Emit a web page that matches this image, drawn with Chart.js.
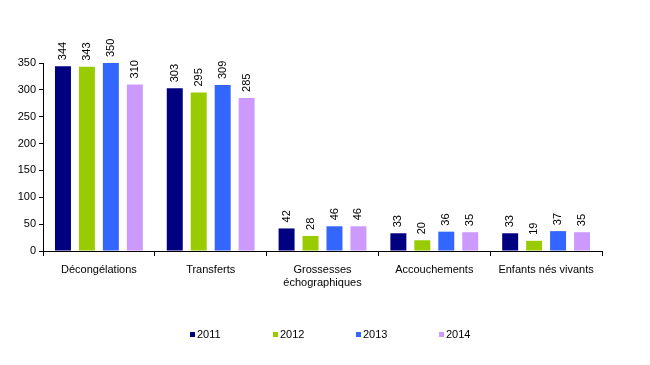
<!DOCTYPE html>
<html lang="fr">
<head>
<meta charset="UTF-8" />
<title>Décongélations</title>
<script src="https://cdn.jsdelivr.net/npm/chart.js"></script>
<style>
  html, body { margin: 0; padding: 0; background: #fff; }
  .wrap { width: 650px; height: 365px; }
</style>
</head>
<body>
<div class="wrap"><canvas id="c" width="650" height="365"></canvas></div>
<script>
const categories = ["Décongélations", "Transferts", ["Grossesses", "échographiques"], "Accouchements", "Enfants nés vivants"];
const years = ["2011", "2012", "2013", "2014"];
const v2011 = [344, 303, 42, 33, 33];
const v2012 = [343, 295, 28, 20, 19];
const v2013 = [350, 309, 46, 36, 37];
const v2014 = [310, 285, 46, 35, 35];
const colors = ["#000080", "#99CC00", "#3366FF", "#CC99FF"];

const FONT = "'Liberation Sans', Arial, sans-serif";

// vertical value labels above bars
const barLabels = {
    id: "barLabels",
    afterDatasetsDraw(chart) {
        const ctx = chart.ctx;
        ctx.save();
        ctx.font = "11px " + FONT;
        ctx.fillStyle = "#000";
        ctx.textAlign = "left";
        ctx.textBaseline = "middle";
        chart.data.datasets.forEach((ds, i) => {
            chart.getDatasetMeta(i).data.forEach((bar, j) => {
                ctx.save();
                ctx.translate(bar.x, bar.y - 6);
                ctx.rotate(-Math.PI / 2);
                ctx.fillText(String(ds.data[j]), 0, 0);
                ctx.restore();
            });
        });
        ctx.restore();
    }
};

// legend row at the bottom, small square markers
const bottomLegend = {
    id: "bottomLegend",
    afterDraw(chart) {
        const ctx = chart.ctx;
        ctx.save();
        ctx.font = "11px " + FONT;
        ctx.textBaseline = "middle";
        ctx.textAlign = "left";
        chart.data.datasets.forEach((ds, i) => {
            const x = 190 + i * 83, y = 335;
            ctx.fillStyle = ds.backgroundColor;
            ctx.fillRect(x, y - 3, 5, 5);
            ctx.fillStyle = "#000";
            ctx.fillText(ds.label, x + 7, y);
        });
        ctx.restore();
    }
};

const series = [v2011, v2012, v2013, v2014];

new Chart(document.getElementById("c"), {
    type: "bar",
    data: {
        labels: categories,
        datasets: years.map((y, i) => ({
            label: y,
            data: series[i],
            backgroundColor: colors[i],
            borderWidth: 0,
            categoryPercentage: 0.857,
            barPercentage: 0.667
        }))
    },
    options: {
        responsive: false,
        animation: false,
        layout: { padding: { top: 63, right: 48, left: 0, bottom: 74 } },
        plugins: {
            tooltip: { enabled: false },
            legend: { display: false }
        },
        scales: {
            x: {
                grid: { offset: true, drawOnChartArea: false, color: "#000", tickLength: 5 },
                border: { color: "#000", width: 1 },
                ticks: { font: { family: FONT, size: 11 }, color: "#000", maxRotation: 0, padding: 7 },
                afterFit(scale) { scale.height = 40; }
            },
            y: {
                min: 0,
                max: 350,
                ticks: { stepSize: 50, font: { family: FONT, size: 11 }, color: "#000", padding: 3 },
                grid: { drawOnChartArea: false, color: "#000", tickLength: 4 },
                border: { color: "#000", width: 1 },
                afterFit(scale) { scale.width = 43; }
            }
        }
    },
    plugins: [barLabels, bottomLegend]
});
</script>
</body>
</html>
